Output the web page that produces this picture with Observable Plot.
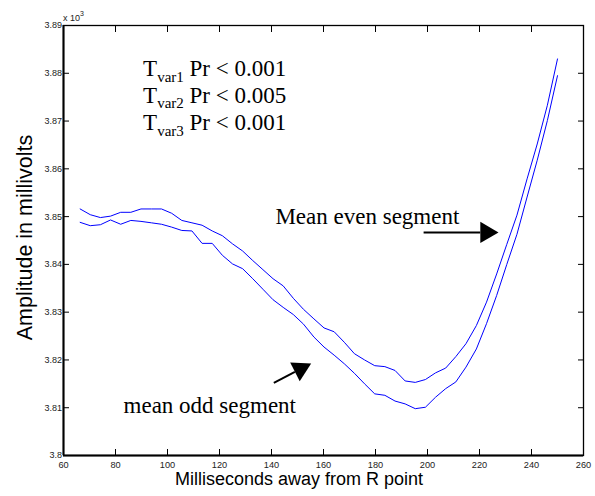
<!DOCTYPE html>
<html><head><meta charset="utf-8">
<script src="https://cdn.jsdelivr.net/npm/d3@7"></script>
<script src="https://cdn.jsdelivr.net/npm/@observablehq/plot@0.6"></script>
<style>body{margin:0;background:#fff}#chart{width:595px;height:496px}</style>
</head><body><div id="chart"></div>
<script>
// Milliseconds away from R point (sample times)
const ms = [66.4, 70.3, 74.2, 78.1, 82.0, 85.9, 89.8, 93.8, 97.7, 101.6, 105.5, 109.4, 113.3, 117.2, 121.1, 125.0,
  128.9, 132.8, 136.7, 140.6, 144.5, 148.4, 152.3, 156.3, 160.2, 164.1, 168.0, 171.9, 175.8, 179.7, 183.6, 187.5,
  191.4, 195.3, 199.2, 203.1, 207.0, 210.9, 214.8, 218.8, 222.7, 226.6, 230.5, 234.4, 238.3, 242.2, 246.1, 250.0];
// Mean even segment (x10^3 millivolts)
const evenSeg = [3.8516, 3.8504, 3.8498, 3.8501, 3.8509, 3.8509, 3.8516, 3.8516, 3.8516, 3.8507, 3.8492, 3.8487,
  3.8482, 3.8470, 3.8460, 3.8443, 3.8428, 3.8408, 3.8389, 3.8370, 3.8355, 3.8329, 3.8306, 3.8286, 3.8267, 3.8259,
  3.8237, 3.8213, 3.8200, 3.8188, 3.8186, 3.8178, 3.8156, 3.8153, 3.8159, 3.8173, 3.8183, 3.8207, 3.8234, 3.8272,
  3.8321, 3.8380, 3.8442, 3.8503, 3.8579, 3.8652, 3.8733, 3.8830];
// Mean odd segment
const oddSeg = [3.8488, 3.8481, 3.8483, 3.8493, 3.8484, 3.8492, 3.8490, 3.8487, 3.8484, 3.8478, 3.8471, 3.8470,
  3.8444, 3.8444, 3.8419, 3.8401, 3.8391, 3.8370, 3.8348, 3.8326, 3.8310, 3.8295, 3.8275, 3.8248, 3.8227, 3.8210,
  3.8192, 3.8172, 3.8150, 3.8129, 3.8126, 3.8114, 3.8108, 3.8098, 3.8101, 3.8122, 3.8140, 3.8154, 3.8185, 3.8223,
  3.8276, 3.8335, 3.8400, 3.8463, 3.8541, 3.8618, 3.8701, 3.8795];

const xDomain = [60, 260];
const yDomain = [3.80, 3.89];
const xTicks = [60, 80, 100, 120, 140, 160, 180, 200, 220, 240, 260];
const yTicks = [3.80, 3.81, 3.82, 3.83, 3.84, 3.85, 3.86, 3.87, 3.88, 3.89];
const xLabel = "Milliseconds away from R point";
const yLabel = "Amplitude in millivolts";

// Annotations (anchored in data space)
const segLabels = ["Mean even segment", "mean odd segment"];
const segLabelX = [141.5, 83.1];
const segLabelY = [3.8484, 3.8088];
const arrowX1 = [198.5, 140.9], arrowY1 = [3.8467, 3.8152];
const arrowX2 = [220.3, 149.0], arrowY2 = [3.8467, 3.8175];
const headX = [222.65, 151.1], headY = [3.8467, 3.8181], headRotate = [90, 63];
const tSubs = ["var1", "var2", "var3"];
const tProbs = ["0.001", "0.005", "0.001"];
const tX = 90.8;
const tY = [3.8793, 3.8737, 3.8680];

const data = ms.flatMap((x, i) => [
  {x, y: evenSeg[i], s: "even"},
  {x, y: oddSeg[i], s: "odd"}
]);
const arrows = arrowX1.map((d, i) => i);

const sans = "'Liberation Sans', Arial, sans-serif";
const serif = "'Liberation Serif', 'Times New Roman', serif";

const plot = Plot.plot({
  width: 595, height: 496,
  marginLeft: 63, marginRight: 12, marginTop: 25, marginBottom: 41,
  style: {fontFamily: sans, background: "#fff", overflow: "visible"},
  x: {domain: xDomain},
  y: {domain: yDomain},
  marks: [
    Plot.line(data, {x: "x", y: "y", z: "s", stroke: "#0000ff", strokeWidth: 1}),
    Plot.axisX(xTicks, {anchor: "bottom", tickSize: -6, tickPadding: 11.5, fontSize: 9.2, fill: "#222", stroke: "black", label: null}),
    Plot.axisX(xTicks, {anchor: "top", tickSize: -6, tickFormat: () => "", stroke: "black", label: null}),
    Plot.axisY(yTicks, {anchor: "left", tickSize: -6, tickPadding: 7.5, fontSize: 9, fill: "#222", stroke: "black", label: null,
      tickFormat: d => String(+d.toFixed(2))}),
    Plot.axisY(yTicks, {anchor: "right", tickSize: -6, tickFormat: () => "", stroke: "black", label: null}),
    Plot.frame({stroke: "black", strokeWidth: 1.3}),
    Plot.ruleX([xDomain[0]], {stroke: "black", strokeWidth: 2}),
    Plot.ruleY([yDomain[0]], {stroke: "black", strokeWidth: 2}),
    Plot.text(segLabels, {x: (d, i) => segLabelX[i], y: (d, i) => segLabelY[i], text: d => d,
      textAnchor: "start", lineAnchor: "bottom", fontSize: 23, fontFamily: serif, fill: "black"}),
    Plot.link(arrows, {x1: i => arrowX1[i], y1: i => arrowY1[i], x2: i => arrowX2[i], y2: i => arrowY2[i],
      stroke: "black", strokeWidth: 2}),
    Plot.dot(arrows, {x: i => headX[i], y: i => headY[i], rotate: i => headRotate[i], symbol: "triangle",
      r: 7.8, fill: "black", stroke: "none"})
  ]
});

const svg = d3.select(plot);
const sx = plot.scale("x"), sy = plot.scale("y");

// T-var lines with subscripts
tSubs.forEach((sub, i) => {
  const t = svg.append("text")
    .attr("x", sx.apply(tX)).attr("y", sy.apply(tY[i]))
    .attr("text-anchor", "start")
    .attr("font-family", serif).attr("font-size", 23).attr("fill", "black");
  t.append("tspan").text("T");
  t.append("tspan").attr("font-size", 15).attr("dy", 5.5).text(sub);
  t.append("tspan").attr("dy", -5.5).text(" Pr < " + tProbs[i]);
});

// x 10^3 exponent label
const ex = svg.append("text")
  .attr("x", sx.apply(xDomain[0])).attr("y", sy.apply(yDomain[1]) - 4.5)
  .attr("text-anchor", "start")
  .attr("font-family", sans).attr("font-size", 9).attr("fill", "#222");
ex.append("tspan").text("x 10");
ex.append("tspan").attr("font-size", 7).attr("dy", -4.5).text("3");

// Axis labels
svg.append("text")
  .attr("transform", "translate(32,237.5) rotate(-90)")
  .attr("text-anchor", "middle").attr("font-family", sans).attr("font-size", 21.5).attr("fill", "black")
  .text(yLabel);
svg.append("text")
  .attr("x", 299).attr("y", 485)
  .attr("text-anchor", "middle").attr("font-family", sans).attr("font-size", 18).attr("fill", "black")
  .text(xLabel);

document.getElementById("chart").appendChild(plot);
</script>
</body></html>
